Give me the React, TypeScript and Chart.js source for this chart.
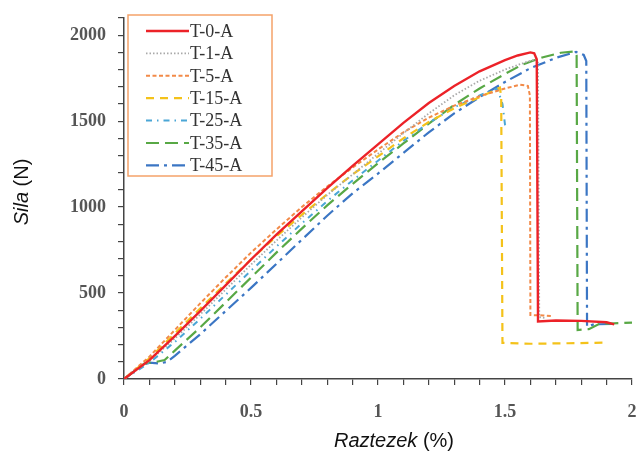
import React, { useEffect, useRef } from "react";
import { Chart, registerables } from "chart.js";

Chart.register(...registerables);

// ---- data ----
const seriesNames = ["T-0-A", "T-1-A", "T-5-A", "T-15-A", "T-25-A", "T-35-A", "T-45-A"];

const t0X = [0, 0.1, 0.2, 0.3, 0.4, 0.5, 0.6, 0.7, 0.8, 0.9, 1.0, 1.1, 1.2, 1.3, 1.4, 1.5, 1.55, 1.6, 1.615, 1.625, 1.63, 1.7, 1.8, 1.9, 1.93];
const t0Y = [0, 110, 250, 395, 545, 695, 840, 975, 1110, 1240, 1365, 1490, 1605, 1705, 1790, 1855, 1882, 1900, 1895, 1860, 335, 340, 338, 330, 318];

const t1X = [0, 0.1, 0.2, 0.3, 0.4, 0.5, 0.6, 0.7, 0.8, 0.9, 1.0, 1.1, 1.2, 1.3, 1.4, 1.5, 1.58, 1.62, 1.63, 1.635, 1.66];
const t1Y = [0, 105, 235, 375, 520, 665, 805, 940, 1070, 1190, 1310, 1430, 1545, 1650, 1735, 1800, 1842, 1860, 1840, 360, 355];

const t5X = [0, 0.1, 0.2, 0.3, 0.4, 0.5, 0.6, 0.7, 0.8, 0.9, 1.0, 1.1, 1.2, 1.3, 1.4, 1.5, 1.56, 1.59, 1.598, 1.6, 1.65, 1.69];
const t5Y = [0, 130, 285, 440, 590, 735, 870, 1000, 1120, 1230, 1335, 1435, 1520, 1590, 1645, 1690, 1712, 1705, 1650, 372, 370, 365];

const t15X = [0, 0.1, 0.2, 0.3, 0.4, 0.5, 0.6, 0.7, 0.8, 0.9, 1.0, 1.1, 1.2, 1.3, 1.4, 1.46, 1.48, 1.485, 1.49, 1.6, 1.75, 1.905];
const t15Y = [0, 120, 265, 410, 555, 695, 830, 955, 1075, 1190, 1295, 1400, 1495, 1575, 1640, 1680, 1695, 1640, 210, 205, 208, 212];

const t25X = [0, 0.1, 0.2, 0.3, 0.4, 0.5, 0.6, 0.7, 0.8, 0.9, 1.0, 1.1, 1.2, 1.3, 1.4, 1.47, 1.49, 1.5, 1.51];
const t25Y = [0, 95, 215, 350, 490, 630, 770, 905, 1035, 1155, 1270, 1385, 1490, 1580, 1650, 1690, 1600, 1480, 1465];

const t35X = [0, 0.05, 0.08, 0.12, 0.16, 0.2, 0.3, 0.4, 0.5, 0.6, 0.7, 0.8, 0.9, 1.0, 1.1, 1.2, 1.3, 1.4, 1.5, 1.57, 1.65, 1.72, 1.775, 1.782, 1.786, 1.83, 1.87, 2.0];
const t35Y = [0, 55, 90, 98, 110, 165, 300, 445, 590, 735, 875, 1010, 1135, 1255, 1370, 1485, 1595, 1690, 1775, 1830, 1872, 1898, 1905, 1880, 285, 290, 320, 328];

const t45X = [0, 0.04, 0.08, 0.1, 0.14, 0.17, 0.2, 0.3, 0.4, 0.5, 0.6, 0.7, 0.8, 0.9, 1.0, 1.1, 1.2, 1.3, 1.4, 1.5, 1.6, 1.7, 1.78, 1.81, 1.82, 1.823, 1.85, 1.925];
const t45Y = [0, 45, 85, 95, 90, 100, 135, 260, 395, 530, 670, 810, 950, 1080, 1195, 1315, 1435, 1545, 1640, 1728, 1808, 1868, 1903, 1885, 1850, 305, 318, 320];

const xTickLabels = ["0", "0.5", "1", "1.5", "2"];
const yTickLabels = ["0", "500", "1000", "1500", "2000"];

const seriesX = [t0X, t1X, t5X, t15X, t25X, t35X, t45X];
const seriesY = [t0Y, t1Y, t5Y, t15Y, t25Y, t35Y, t45Y];

const colors = ["#ec2228", "#a9a9a9", "#f28a48", "#f4c21a", "#4aa6d6", "#58a845", "#3b76c4"];
const dashes: number[][] = [[], [1.5, 2], [4, 2.5], [8, 6], [6, 5, 1.5, 5], [13, 6], [13, 5, 3, 5]];
const widths = [2.4, 1.8, 2, 2.2, 2, 2.2, 2.2];

const legendPlugin = {
  id: "customLegend",
  afterDraw(chart: any) {
    const ctx = chart.ctx;
    ctx.save();
    ctx.strokeStyle = "#f5a26a";
    ctx.lineWidth = 1.5;
    ctx.strokeRect(128, 15, 144, 161);
    ctx.font = "18px 'Liberation Serif', serif";
    ctx.fillStyle = "#333";
    ctx.textBaseline = "middle";
    seriesNames.forEach((name, i) => {
      const y = 31 + i * 22.4;
      ctx.beginPath();
      ctx.strokeStyle = colors[i];
      ctx.lineWidth = widths[i];
      ctx.setLineDash(dashes[i]);
      ctx.moveTo(146, y);
      ctx.lineTo(189, y);
      ctx.stroke();
      ctx.setLineDash([]);
      ctx.fillText(name, 190, y + 1);
    });
    // axis titles
    ctx.fillStyle = "#111";
    const it = "italic 20px 'Liberation Sans', Arial, sans-serif";
    const nm = "20px 'Liberation Sans', Arial, sans-serif";
    ctx.font = it;
    const w1 = ctx.measureText("Raztezek").width;
    ctx.font = nm;
    const w2 = ctx.measureText(" (%)").width;
    let sx = 394 - (w1 + w2) / 2;
    ctx.textBaseline = "middle";
    ctx.font = it;
    ctx.fillText("Raztezek", sx, 441);
    ctx.font = nm;
    ctx.fillText(" (%)", sx + w1, 441);
    ctx.translate(22, 192);
    ctx.rotate(-Math.PI / 2);
    ctx.font = it;
    const v1 = ctx.measureText("Sila").width;
    ctx.font = nm;
    const v2 = ctx.measureText(" (N)").width;
    sx = -(v1 + v2) / 2;
    ctx.font = it;
    ctx.fillText("Sila", sx, 0);
    ctx.font = nm;
    ctx.fillText(" (N)", sx + v1, 0);
    ctx.restore();
  },
};

export default function App() {
  const ref = useRef<HTMLCanvasElement>(null);
  useEffect(() => {
    if (!ref.current) return;
    const datasets = seriesNames.map((name, i) => ({
      label: name,
      data: seriesX[i].map((x, j) => ({ x, y: seriesY[i][j] })),
      borderColor: colors[i],
      borderWidth: widths[i],
      borderDash: dashes[i],
      pointRadius: 0,
      fill: false,
      tension: 0,
    }));
    const tickFont = { family: "'Liberation Serif', serif", size: 18, weight: "bold" as const };
    const chart = new Chart(ref.current, {
      type: "line",
      data: { datasets },
      options: {
        animation: false,
        responsive: false,
        maintainAspectRatio: false,
        layout: { padding: { top: 18, right: 4, left: 0, bottom: 0 } },
        plugins: { legend: { display: false }, tooltip: { enabled: false } },
        scales: {
          x: {
            type: "linear",
            min: 0,
            max: 2,
            afterFit: (s: any) => { s.height = 80; s.paddingRight = 0; s.paddingLeft = 0; },
            grid: { drawOnChartArea: false, tickLength: 6, color: "#444", lineWidth: 1.2 },
            border: { color: "#444", width: 1.5 },
            ticks: {
              stepSize: 0.1,
              autoSkip: false,
              maxRotation: 0,
              color: "#555",
              font: tickFont,
              padding: 17,
              callback: (v: any) => {
                const k = Math.round(Number(v) * 10);
                return k % 5 === 0 ? xTickLabels[k / 5] : "";
              },
            },
          },
          y: {
            type: "linear",
            min: 0,
            max: 2100,
            afterFit: (s: any) => { s.width = 124; s.paddingTop = 0; s.paddingBottom = 0; },
            grid: { drawOnChartArea: false, tickLength: 6, color: "#444", lineWidth: 1.2 },
            border: { color: "#444", width: 1.5 },
            ticks: {
              stepSize: 100,
              autoSkip: false,
              color: "#555",
              font: tickFont,
              padding: 12,
              callback: (v: any) => {
                const k = Math.round(Number(v));
                return k % 500 === 0 ? yTickLabels[k / 500] : "";
              },
            },
          },
        },
      },
      plugins: [legendPlugin],
    });
    return () => chart.destroy();
  }, []);
  return (
    <div style={{ position: "fixed", left: 0, top: 0, width: 636, height: 459, background: "#fff" }}>
      <canvas ref={ref} width={636} height={459} style={{ width: 636, height: 459 }} />
    </div>
  );
}
